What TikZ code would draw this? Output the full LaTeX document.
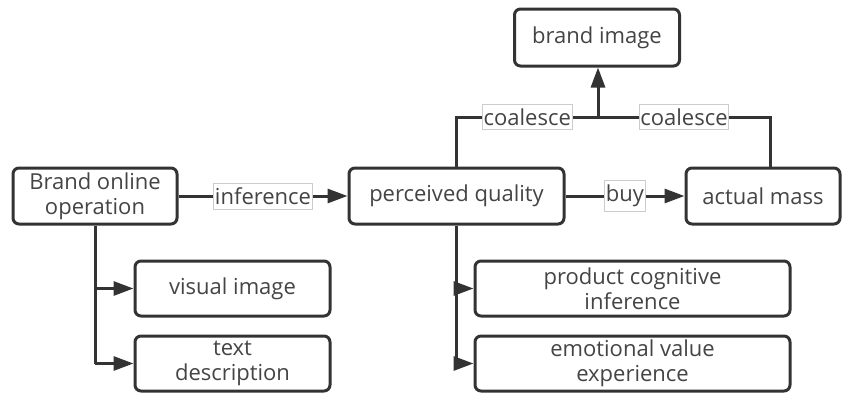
\documentclass[tikz,border=0pt]{standalone}
\usepackage{fontspec}
\setmainfont{Open Sans}
\usetikzlibrary{arrows.meta}
\definecolor{linegray}{HTML}{333333}
\definecolor{textgray}{HTML}{444444}
\begin{document}
\begin{tikzpicture}[
  x=0.5pt, y=-0.5pt,
  box/.style={rectangle, draw=linegray, line width=1.5pt, rounded corners=3pt, align=center,
    text=textgray, font=\fontsize{11}{12.5}\selectfont, inner sep=1pt},
  lbl/.style={rectangle, draw=gray!40, line width=0.4pt, fill=white, text=textgray,
    font=\fontsize{11}{12.5}\selectfont, inner xsep=0.6pt, inner ysep=2.2pt},
  line/.style={draw=linegray, line width=1.5pt},
  arrow/.style={line, -{Triangle[length=10pt, width=7pt]}}
]
  \useasboundingbox (0,0) rectangle (845,396);

  % Main row
  \node[box, minimum width=82pt, minimum height=28pt] (brand) at (95,196) {Brand online\\operation};
  \node[box, minimum width=107.5pt, minimum height=28pt] (pq) at (456.5,196) {perceived quality};
  \node[box, minimum width=77pt, minimum height=28pt] (am) at (763,196) {actual mass};

  % Top
  \node[box, minimum width=82.5pt, minimum height=28.5pt] (bi) at (597,37.5) {brand image};

  % Left branch
  \node[box, minimum width=97.5pt, minimum height=27.5pt] (vi) at (232.5,288.5) {visual image};
  \node[box, minimum width=97.5pt, minimum height=27.5pt] (td) at (232.5,363.5) {text\\description};

  % Right branch
  \node[box, minimum width=157.5pt, minimum height=27.5pt] (pci) at (632.5,288.5) {product cognitive\\inference};
  \node[box, minimum width=157.5pt, minimum height=27.5pt] (eve) at (632.5,363.5) {emotional value\\experience};

  \coordinate (join) at (598,117);

  % Arrows
  \draw[arrow] (brand.east) -- (pq.west) node[midway, lbl] {inference};
  \draw[arrow] (pq.east) -- (am.west) node[midway, lbl] {buy};
  \draw[line] (pq.north) |- (join) node[pos=0.75, lbl] {coalesce};
  \draw[line] ([xshift=3.5pt]am.north) |- (join) node[pos=0.75, lbl] {coalesce};
  \draw[arrow] (join) -- (join |- bi.south);
  \draw[line] (brand.south) -- (brand.south |- td.west);
  \draw[arrow] (brand.south |- vi.west) -- (vi.west);
  \draw[arrow] (brand.south |- td.west) -- (td.west);
  \draw[line] (pq.south) -- (pq.south |- eve.west);
  \draw[arrow] (pq.south |- pci.west) -- (pci.west);
  \draw[arrow] (pq.south |- eve.west) -- (eve.west);
\end{tikzpicture}
\end{document}
